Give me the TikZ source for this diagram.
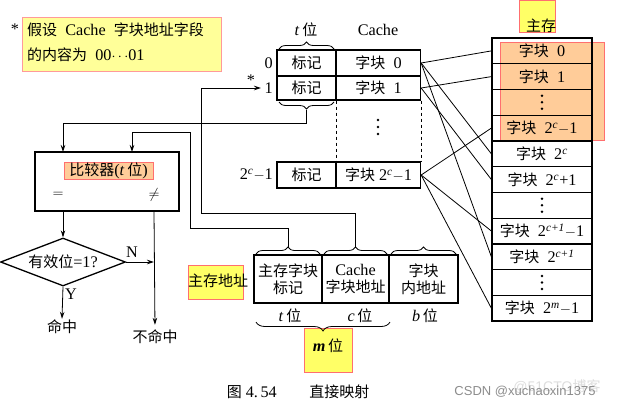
\documentclass[tikz,border=0pt]{standalone}
\usepackage{fontspec}
\setmainfont[Scale=1.08]{Liberation Serif}
\newfontfamily\cjk{Noto Sans CJK SC}
\newfontfamily\wmfont{Liberation Sans}
\usetikzlibrary{arrows.meta,shapes.geometric,decorations.pathreplacing,calc}
\newcommand\zhs[1]{{\cjk #1}}
\newcommand\pwr[1]{2\textsuperscript{\textit{#1}}}
\definecolor{noteyellow}{HTML}{FFFF99}
\definecolor{hiyellow}{HTML}{FFFF66}
\definecolor{hiorange}{HTML}{FFCC99}
\definecolor{hired}{HTML}{FF6F6F}
\definecolor{wmgray}{HTML}{8C8C8C}
\definecolor{wmlight}{HTML}{DDDDDD}
\begin{document}
\begin{tikzpicture}[x=1pt,y=-1pt, font=\fontsize{15}{17}\selectfont,
  box/.style={draw, line width=1.3pt, inner sep=0pt, align=center},
  cell/.style={box, minimum height=25.7pt, minimum width=100pt},
  tagcell/.style={box, minimum width=59pt},
  datcell/.style={box, minimum width=84pt},
  link/.style={line width=0.8pt},
  arr/.style={line width=0.8pt, -{Stealth[length=7pt,width=4.5pt]}},
  brc/.style={decorate, decoration={brace, amplitude=7pt}, line width=0.8pt},
  hl/.style={fill=hiyellow, draw=hired, line width=0.8pt},
  ho/.style={fill=hiorange, draw=hired, line width=0.8pt},
  lbl/.style={inner sep=1pt},
  dotc/.style={fill=black},
]
\useasboundingbox (0,0) rectangle (618,408);

% ---- note box
\path[fill=noteyellow, draw=hired!70, line width=0.8pt] (22,17) rectangle (221,71);
\node[lbl] (star0) at (15,29) {*};
\node[lbl, anchor=west] (note1) at (26,30) {\zhs{假设}\ \ Cache\ \ \zhs{字块地址字段}};
\node[lbl, anchor=west] (note2) at (26,55) {\zhs{的内容为}\ \ 00$\cdots$01};

% ---- cache
\node[lbl] (tlab) at (306,30) {\textit{t}\,\zhs{位}};
\node[lbl] (clab) at (378,30) {Cache};
\node[tagcell, minimum height=26pt] (tag0) at (306.5,63) {\zhs{标记}};
\node[datcell, minimum height=26pt] (dat0) at (378.5,63) {\zhs{字块}\ \ 0};
\node[tagcell, minimum height=24pt] (tag1) at (306.5,88) {\zhs{标记}};
\node[datcell, minimum height=24pt] (dat1) at (378.5,88) {\zhs{字块}\ \ 1};
\node[tagcell, minimum height=26pt] (tagN) at (306.5,175) {\zhs{标记}};
\node[datcell, minimum height=26pt] (datN) at (378.5,175) {\zhs{字块}\ \pwr{c}$-$1};
\draw[line width=0.8pt, dashed] (tag1.south east) -- (tagN.north east);
\draw[line width=0.8pt, dashed] (dat1.south east) -- (datN.north east);
\foreach \yy in {120,127,134} \fill[dotc] (378,\yy) circle (1.4pt);
\node[lbl, anchor=east] (r0) at (274,63) {0};
\node[lbl, anchor=east] (r1) at (274,88) {1};
\node[lbl, anchor=east] (rN) at (274,175) {\pwr{c}$-$1};
\node[lbl] (star1) at (251,80) {*};
\coordinate (in1) at (261,88);
\draw[brc] (279,49) -- (334,49);
\draw[brc] (334,102) -- (279,102);
\coordinate (tb) at (306.5,110);

% ---- main memory
\path[ho] (500,42) rectangle (604,140);
\path[hl] (519,0) rectangle (555,32);
\node[lbl] (mlab) at (541,26) {\zhs{主存}};
\node[cell] (m0) at (542,50.9) {\zhs{字块}\ \ 0};
\node[cell] (m1) at (542,76.6) {\zhs{字块}\ \ 1};
\node[cell] (m2) at (542,102.3) {};
\node[cell] (m3) at (542,128.1) {\zhs{字块}\ \ \pwr{c}$-$1};
\node[cell] (m4) at (542,153.8) {\zhs{字块}\ \ \pwr{c}};
\node[cell] (m5) at (542,179.5) {\zhs{字块}\ \ \pwr{c}+1};
\node[cell] (m6) at (542,205.3) {};
\node[cell] (m7) at (542,231.0) {\zhs{字块}\ \ \pwr{c+1}$-$1};
\node[cell] (m8) at (542,256.7) {\zhs{字块}\ \ \pwr{c+1}};
\node[cell] (m9) at (542,282.5) {};
\node[cell] (m10) at (542,308.2) {\zhs{字块}\ \ \pwr{m}$-$1};
\foreach \mm in {m2,m6,m9} {
  \fill[dotc] ($(\mm)+(0,-6.5)$) circle (1.4pt);
  \fill[dotc] (\mm) circle (1.4pt);
  \fill[dotc] ($(\mm)+(0,6.5)$) circle (1.4pt);
}

\draw[link] (dat0.east) -- (m0.west);
\draw[link] (dat0.east) -- (m4.west);
\draw[link] (dat0.east) -- (m8.west);
\draw[link] (dat1.east) -- (m1.west);
\draw[link] (dat1.east) -- (m5.west);
\draw[link] (datN.east) -- (m3.west);
\draw[link] (datN.east) -- (m7.west);
\draw[link] (datN.east) -- (m10.west);

% ---- comparator
\node[box, minimum width=144pt, minimum height=59pt] (cmp) at (107,181.5) {};
\node[ho, minimum width=89pt, minimum height=17pt, inner sep=0pt] (cmpl) at (108.5,170.5) {\zhs{比较器}(\textit{t}\,\zhs{位})};
\node[lbl] (eq) at (58,195) {$=$};
\node[lbl] (ne) at (154,195) {$\neq$};
\coordinate (c1) at (63,152);
\coordinate (c2) at (132,152);
\node[draw, diamond, line width=1.3pt, minimum width=125pt, minimum height=48pt, inner sep=0pt, aspect=2.6] (dia) at (63,262) {\zhs{有效位}=1?};
\node[lbl] (hit) at (62,327) {\zhs{命中}};
\node[lbl] (miss) at (155,337) {\zhs{不命中}};
\node[lbl] (nl) at (132,252) {N};
\node[lbl] (yl) at (71,294) {Y};
\draw[arr] (cmp.south -| dia.north) -- (dia.north);
\draw[arr] (dia.south) -- (hit.north);
\draw[arr, shorten >=4pt] (cmp.south -| ne) -- (miss.north);
\draw[arr] (dia.east) -- (dia.east -| ne);

% ---- address
\path[hl] (188,265) rectangle (243,299);
\node[lbl] (addr) at (218,281) {\zhs{主存地址}};
\node[box, minimum width=68pt, minimum height=48pt] (fa) at (288,279) {\zhs{主存字块}\\\zhs{标记}};
\node[box, minimum width=67pt, minimum height=48pt] (fb) at (355.5,279) {Cache\\\zhs{字块地址}};
\node[box, minimum width=69pt, minimum height=48pt] (fcx) at (423.5,279) {\zhs{字块}\\\zhs{内地址}};
\draw[brc] (256,254) -- (320,254);
\draw[brc] (324,254) -- (387,254);
\draw[brc] (391,254) -- (456,254);
\coordinate (ft) at (288,247);
\coordinate (fc) at (355.5,247);
\node[lbl] (tb2) at (290,316) {\textit{t}\,\zhs{位}};
\node[lbl] (cb2) at (360,316) {\textit{c}\,\zhs{位}};
\node[lbl] (bb2) at (425,316) {\textit{b}\,\zhs{位}};
\path[hl] (304,328) rectangle (352,372);
\node[lbl] (mb) at (328,346) {\textbf{\textit{m}}\,\zhs{位}};
\draw[decorate, decoration={brace, amplitude=9pt}, line width=0.8pt] (390,322) -- (256,322);

% ---- routing lines
\draw[arr] (tb) -- ++(0,13) -| (c1);
\draw[arr] (ft) -- (288,228) -- (190,228) -- (190,132) -| (c2);
\draw[arr] (fc) -- (355.5,213) -- (201,213) |- (in1);

% ---- caption & watermark
\node[lbl] (cap) at (298,392) {\zhs{图}\ 4.\,54\qquad\zhs{直接映射}};
\node[lbl, text=wmlight, font=\wmfont\fontsize{14}{16}\selectfont] (wm2) at (557,387) {@51CTO\zhs{博客}};
\node[lbl, text=wmgray, font=\wmfont\fontsize{13}{15}\selectfont] (wm1) at (525,392) {CSDN @xuchaoxin1375};
\end{tikzpicture}
\end{document}
